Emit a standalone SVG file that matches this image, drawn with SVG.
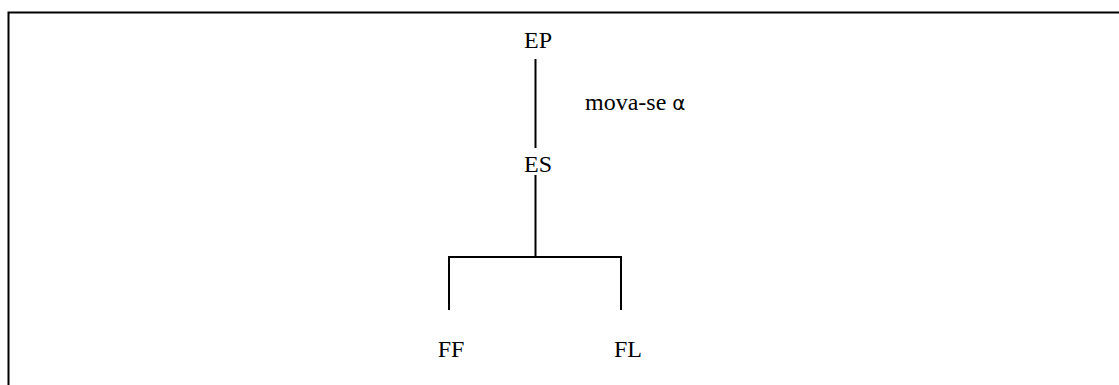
<svg xmlns="http://www.w3.org/2000/svg" width="1119" height="385" viewBox="0 0 1119 385">
  <style>
    .lbl { font-family: "Liberation Serif", "Times New Roman", serif; font-size: 24px; fill: #000; }
    .edge { stroke: #000; stroke-width: 2; fill: none; }
    .frame { stroke: #000; stroke-width: 2; fill: none; }
  </style>
  <rect width="1119" height="385" fill="#fff"/>
  <!-- open frame: top and left edges -->
  <path class="frame" d="M 1119 12.5 H 8.5 V 385"/>

  <g id="connectors">
    <line class="edge" x1="535.5" y1="59" x2="535.5" y2="148"/>
    <line class="edge" x1="535.5" y1="175" x2="535.5" y2="257"/>
    <path class="edge" d="M 449 310 V 257 H 621 V 310"/>
  </g>

  <g id="node-EP"><text class="lbl" x="538" y="48" text-anchor="middle">EP</text></g>
  <g id="node-ES"><text class="lbl" x="538" y="172" text-anchor="middle">ES</text></g>
  <g id="node-FF"><text class="lbl" x="451" y="357" text-anchor="middle">FF</text></g>
  <g id="node-FL"><text class="lbl" x="628" y="357" text-anchor="middle">FL</text></g>
  <g id="label-move"><text class="lbl" x="585" y="110">mova-se <tspan font-family="DejaVu Sans, sans-serif" font-size="20">α</tspan></text></g>
</svg>
